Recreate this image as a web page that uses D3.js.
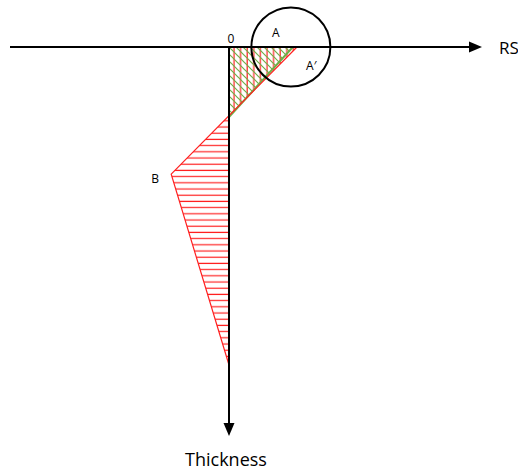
<!DOCTYPE html>
<html>
<head>
<meta charset="utf-8">
<script src="https://cdn.jsdelivr.net/npm/d3@7"></script>
<style>
  html, body { margin: 0; padding: 0; background: #fff; }
  svg { display: block; }
  text { font-family: "Open Sans", Lato, sans-serif; fill: #000; }
</style>
</head>
<body>
<svg id="chart" width="518" height="470"></svg>
<script>
// Residual stress (RS) versus depth (thickness), schematic units.
const redDepth = [0, 0.40, 1.0];     // measured profile, depth
const redRS    = [100, -85, 0];      // measured profile, stress
const greenDepth = [0, 0.22];        // near-surface profile, depth
const greenRS    = [94, 0];          // near-surface profile, stress
const pointLabels = ["0", "A", "A\u2032", "B"];
const axisLabels  = ["RS", "Thickness"];

const svg = d3.select("#chart");
const x = d3.scaleLinear().domain([0, 100]).range([229, 297]);
const y = d3.scaleLinear().domain([0, 1]).range([47, 365]);

const rsMin = x.invert(10), rsMax = x.invert(482);
const depthMax = y.invert(436);

const redPts = redRS.map((v, i) => [v, redDepth[i]]);
const greenPts = greenRS.map((v, i) => [v, greenDepth[i]]);

// depth where the measured profile crosses zero stress
const r0 = redPts[0], r1 = redPts[1];
const zeroDepth = r0[1] + (r1[1] - r0[1]) * (0 - r0[0]) / (r1[0] - r0[0]);

const defs = svg.append("defs");
function hatch(id, w, h, d, color, width) {
  const p = defs.append("pattern").attr("id", id)
    .attr("patternUnits", "userSpaceOnUse").attr("width", w).attr("height", h);
  p.append("path").attr("d", d).attr("stroke", color).attr("stroke-width", width).attr("fill", "none");
}
hatch("redH", 10, 6.2, "M0,3 H10", "#ff2020", 1.2);
hatch("redV", 6.6, 10, "M3,0 V10", "#ff2020", 1.2);
hatch("greenD", 7, 7, "M-1,-1 L8,8 M-8,-1 L1,8 M6,-1 L15,8", "#70ad47", 1.2);

const line = d3.line().x(d => x(d[0])).y(d => y(d[1]));

// tensile zone, measured profile (vertical hatching)
svg.append("path")
  .attr("d", line([[0, 0], r0, [0, zeroDepth]]) + "Z")
  .attr("fill", "url(#redV)");
// near-surface zone (diagonal hatching)
svg.append("path")
  .attr("d", line([[0, 0], greenPts[0], greenPts[1]]) + "Z")
  .attr("fill", "url(#greenD)");
// compressive zone (horizontal hatching)
svg.append("path")
  .attr("d", line([[0, zeroDepth], redPts[1], redPts[2]]) + "Z")
  .attr("fill", "url(#redH)");

// profile outlines
svg.append("path").attr("d", line(greenPts))
  .attr("fill", "none").attr("stroke", "#70ad47").attr("stroke-width", 2);
svg.append("path").attr("d", line(redPts))
  .attr("fill", "none").attr("stroke", "#ff2020").attr("stroke-width", 1.2);

// axes with arrowheads
svg.append("line")
  .attr("x1", x(rsMin)).attr("x2", x(rsMax) - 12)
  .attr("y1", y(0)).attr("y2", y(0))
  .attr("stroke", "#000").attr("stroke-width", 2);
svg.append("path")
  .attr("d", `M${x(rsMax)},${y(0)} L${x(rsMax) - 13},${y(0) - 5.5} L${x(rsMax) - 13},${y(0) + 5.5}Z`)
  .attr("fill", "#000");
svg.append("line")
  .attr("x1", x(0)).attr("x2", x(0))
  .attr("y1", y(0)).attr("y2", y(depthMax) - 12)
  .attr("stroke", "#000").attr("stroke-width", 2);
svg.append("path")
  .attr("d", `M${x(0)},${y(depthMax)} L${x(0) - 5.5},${y(depthMax) - 13} L${x(0) + 5.5},${y(depthMax) - 13}Z`)
  .attr("fill", "#000");

// region of interest around the surface value
svg.append("circle")
  .attr("cx", x(91)).attr("cy", y(0)).attr("r", 39.5)
  .attr("fill", "none").attr("stroke", "#000").attr("stroke-width", 2);

// labels
svg.append("text").attr("x", x(0) + 2).attr("y", y(0) - 4)
  .attr("text-anchor", "middle").attr("font-size", 12).text(pointLabels[0]);
svg.append("text").attr("x", x(69)).attr("y", y(0) - 10)
  .attr("text-anchor", "middle").attr("font-size", 12).text(pointLabels[1]);
svg.append("text").attr("x", x(121)).attr("y", y(0) + 23)
  .attr("text-anchor", "middle").attr("font-size", 12).text(pointLabels[2]);
svg.append("text").attr("x", x(redRS[1]) - 16).attr("y", y(redDepth[1]) + 9)
  .attr("text-anchor", "middle").attr("font-size", 12).text(pointLabels[3]);
svg.append("text").attr("x", 499).attr("y", y(0) + 7)
  .attr("font-size", 17).text(axisLabels[0]);
svg.append("text").attr("x", x(0) - 3).attr("y", 466)
  .attr("text-anchor", "middle").attr("font-size", 18).text(axisLabels[1]);
</script>
</body>
</html>
